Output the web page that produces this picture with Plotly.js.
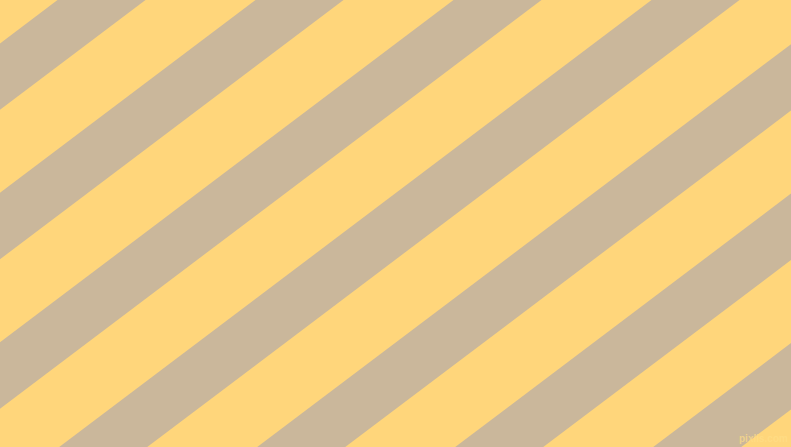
<!DOCTYPE html>
<html>
<head>
<meta charset="utf-8">
<script src="https://cdn.plot.ly/plotly-3.0.1.min.js"></script>
<style>
html,body{margin:0;padding:0;background:#FFD67B;}
#chart{width:791px;height:447px;}
</style>
</head>
<body>
<div id="chart"></div>
<script>
// Stripe pattern values
var stripeStarts = [57.5, 255.5, 453.5, 651.5, 849.5, 1047.5, 1245.5]; // x where each tan stripe starts on the top edge
var stripeWidth = 88;      // horizontal width of a tan stripe
var stripeShear = 1.325;   // horizontal shift per pixel going down
var bgColor = '#FFD67B';
var stripeColor = '#CAB79B';
var watermark = 'pixlis.com';

var W = 791, H = 447;
var y0 = -20, y1 = H + 20;
var traces = stripeStarts.map(function (s) {
  var e = s + stripeWidth;
  return {
    type: 'scatter',
    mode: 'lines',
    x: [s - stripeShear * y0, e - stripeShear * y0, e - stripeShear * y1, s - stripeShear * y1, s - stripeShear * y0],
    y: [y0, y0, y1, y1, y0],
    fill: 'toself',
    fillcolor: stripeColor,
    line: {width: 0, color: stripeColor},
    hoverinfo: 'skip',
    showlegend: false
  };
});

var layout = {
  width: W, height: H,
  margin: {l: 0, r: 0, t: 0, b: 0, pad: 0},
  paper_bgcolor: bgColor,
  plot_bgcolor: bgColor,
  showlegend: false,
  xaxis: {range: [0, W], visible: false, fixedrange: true},
  yaxis: {range: [H, 0], visible: false, fixedrange: true},
  annotations: [{
    text: watermark, xref: 'x', yref: 'y', x: 790, y: 438,
    xanchor: 'right', yanchor: 'middle', showarrow: false,
    font: {family: 'Liberation Sans, Arial, sans-serif', size: 10, color: 'rgba(255,222,135,0.7)', weight: 'bold'}
  }]
};

Plotly.newPlot('chart', traces, layout, {staticPlot: true, displayModeBar: false});
</script>
</body>
</html>
